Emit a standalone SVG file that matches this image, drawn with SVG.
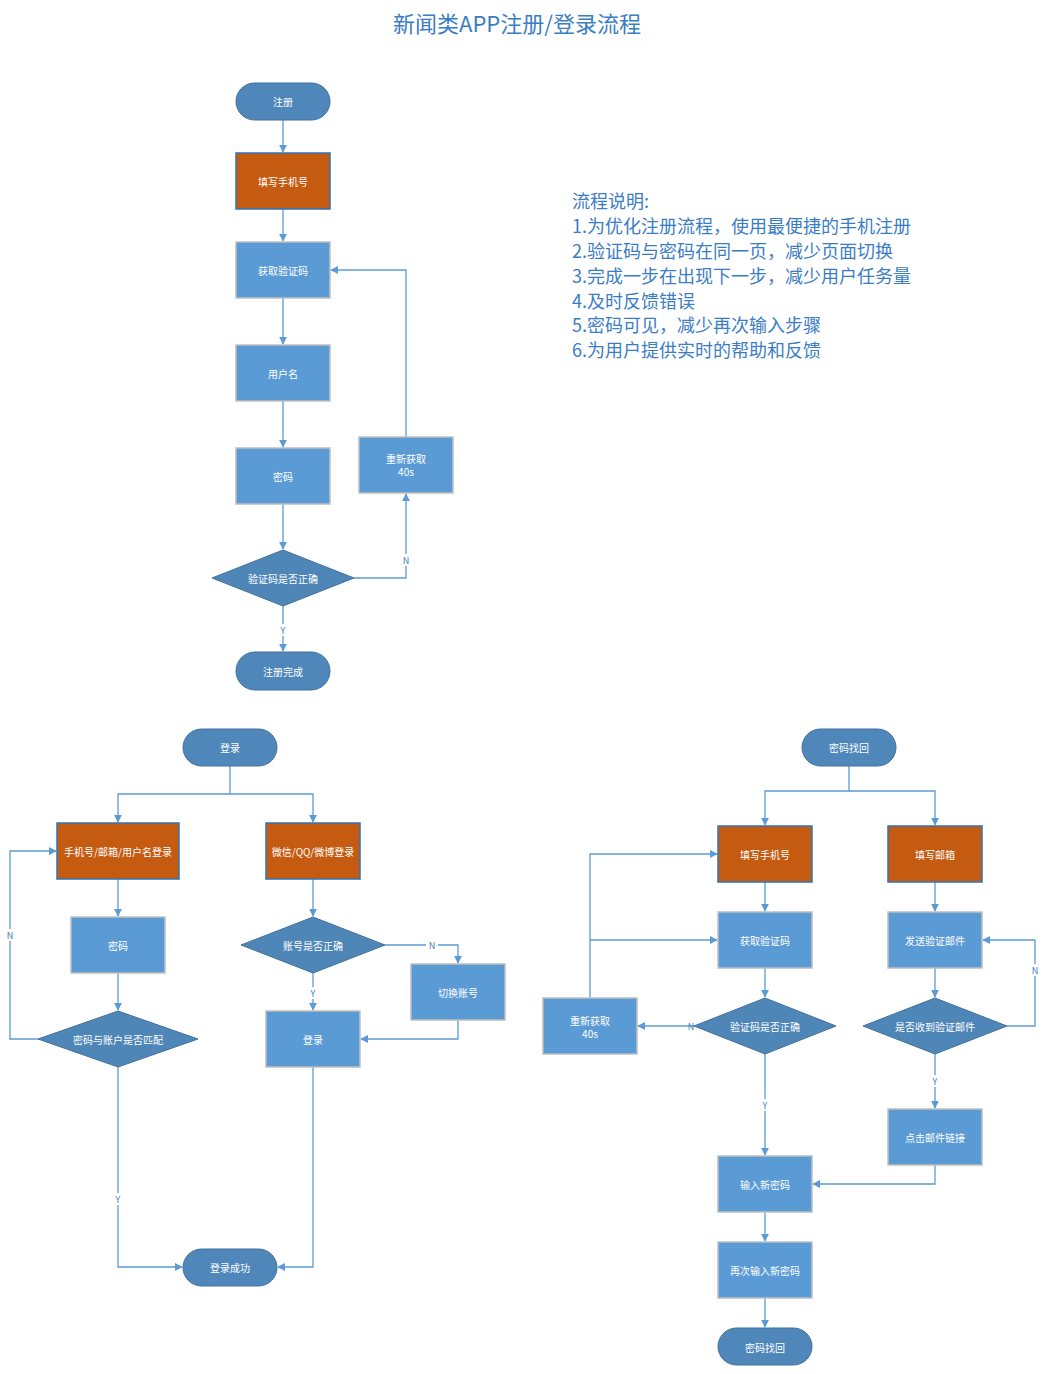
<svg xmlns="http://www.w3.org/2000/svg" width="1045" height="1374" viewBox="0 0 1045 1374">
<defs>
<marker id="a" viewBox="0 0 10 10" refX="9" refY="5" markerWidth="8" markerHeight="8" markerUnits="userSpaceOnUse" orient="auto"><path d="M0,0L10,5L0,10z" fill="#5B9BD5"/></marker>
<style>
text{font-family:"Noto Sans CJK SC","Liberation Sans",sans-serif;}
.t{fill:#4F87BB;stroke:#41719C;stroke-width:1}
.r{fill:#5B9BD5;stroke:#BFBFBF;stroke-width:1.5}
.o{fill:#C55A11;stroke:#2E75B6;stroke-width:1.5}
.d{fill:#4E86B8;stroke:#41719C;stroke-width:1}
.n text,text.n{fill:#fff;font-size:10px;text-anchor:middle;dominant-baseline:central}
.c path{fill:none;stroke:#5B9BD5;stroke-width:1.3}
.l{fill:#3B7DC4;font-size:9px;text-anchor:middle;dominant-baseline:central}
.x{fill:#3B7DC4;font-size:18px}
</style>
</defs>
<rect width="1045" height="1374" fill="#fff"/>
<text x="517" y="22" text-anchor="middle" dominant-baseline="central" style="fill:#3B7DC4;font-size:22px">新闻类APP注册/登录流程</text>
<g id="notes">
<text class="x" x="572" y="208">流程说明:</text>
<text class="x" x="572" y="233">1.为优化注册流程，使用最便捷的手机注册</text>
<text class="x" x="572" y="258">2.验证码与密码在同一页，减少页面切换</text>
<text class="x" x="572" y="283">3.完成一步在出现下一步，减少用户任务量</text>
<text class="x" x="572" y="308">4.及时反馈错误</text>
<text class="x" x="572" y="332">5.密码可见，减少再次输入步骤</text>
<text class="x" x="572" y="357">6.为用户提供实时的帮助和反馈</text>
</g>
<g class="c" id="connectors">
<path d="M283,120V152" marker-end="url(#a)"/>
<path d="M283,209V241" marker-end="url(#a)"/>
<path d="M283,298V344" marker-end="url(#a)"/>
<path d="M283,401V447" marker-end="url(#a)"/>
<path d="M283,504V549" marker-end="url(#a)"/>
<path d="M283,606V651" marker-end="url(#a)"/>
<path d="M354,578H406V494" marker-end="url(#a)"/>
<path d="M406,437V270H331" marker-end="url(#a)"/>
<path d="M230,766V794H118V822" marker-end="url(#a)"/>
<path d="M230,794H313V822" marker-end="url(#a)"/>
<path d="M118,879V916" marker-end="url(#a)"/>
<path d="M118,973V1010" marker-end="url(#a)"/>
<path d="M38,1039H10V851H56" marker-end="url(#a)"/>
<path d="M118,1067V1267H182" marker-end="url(#a)"/>
<path d="M313,879V916" marker-end="url(#a)"/>
<path d="M385,945H458V963" marker-end="url(#a)"/>
<path d="M458,1020V1039H361" marker-end="url(#a)"/>
<path d="M313,973V1010" marker-end="url(#a)"/>
<path d="M313,1067V1267H278" marker-end="url(#a)"/>
<path d="M849,766V791H765V825" marker-end="url(#a)"/>
<path d="M849,791H935V825" marker-end="url(#a)"/>
<path d="M765,882V911" marker-end="url(#a)"/>
<path d="M935,882V911" marker-end="url(#a)"/>
<path d="M765,968V997" marker-end="url(#a)"/>
<path d="M935,968V997" marker-end="url(#a)"/>
<path d="M694,1026H638" marker-end="url(#a)"/>
<path d="M590,998V854H717" marker-end="url(#a)"/>
<path d="M590,940H717" marker-end="url(#a)"/>
<path d="M1007,1026H1035V940H983" marker-end="url(#a)"/>
<path d="M935,1054V1108" marker-end="url(#a)"/>
<path d="M935,1165V1184H813" marker-end="url(#a)"/>
<path d="M765,1054V1155" marker-end="url(#a)"/>
<path d="M765,1212V1241" marker-end="url(#a)"/>
<path d="M765,1298V1327" marker-end="url(#a)"/>
</g>
<g id="labels">
<rect x="400" y="554" width="12" height="12" fill="#fff"/><text class="l" x="406" y="560">N</text>
<rect x="277" y="624" width="12" height="12" fill="#fff"/><text class="l" x="283" y="630">Y</text>
<rect x="4" y="929" width="12" height="12" fill="#fff"/><text class="l" x="10" y="935">N</text>
<rect x="112" y="1193" width="12" height="12" fill="#fff"/><text class="l" x="118" y="1199">Y</text>
<rect x="426" y="939" width="12" height="12" fill="#fff"/><text class="l" x="432" y="945">N</text>
<rect x="307" y="987" width="12" height="12" fill="#fff"/><text class="l" x="313" y="993">Y</text>
<text class="l" x="691" y="1026">N</text>
<rect x="1029" y="964" width="12" height="12" fill="#fff"/><text class="l" x="1035" y="970">N</text>
<rect x="929" y="1075" width="12" height="12" fill="#fff"/><text class="l" x="935" y="1081">Y</text>
<rect x="759" y="1099" width="12" height="12" fill="#fff"/><text class="l" x="765" y="1105">Y</text>
</g>
<g id="reg" class="n"><rect class="t" x="236" y="83" width="94" height="37" rx="18.5"/><text x="283" y="101">注册</text></g>
<g id="phone1" class="n"><rect class="o" x="236" y="153" width="94" height="56"/><text x="283" y="181">填写手机号</text></g>
<g id="code1" class="n"><rect class="r" x="236" y="242" width="94" height="56"/><text x="283" y="270">获取验证码</text></g>
<g id="user" class="n"><rect class="r" x="236" y="345" width="94" height="56"/><text x="283" y="373">用户名</text></g>
<g id="pwd1" class="n"><rect class="r" x="236" y="448" width="94" height="56"/><text x="283" y="476">密码</text></g>
<g id="chk1" class="n"><path class="d" d="M212,578L283,550L354,578L283,606z"/><text x="283" y="578">验证码是否正确</text></g>
<g id="regok" class="n"><rect class="t" x="236" y="652" width="94" height="38" rx="19"/><text x="283" y="671">注册完成</text></g>
<g id="retry1" class="n"><rect class="r" x="359" y="437" width="94" height="56"/><text x="406" y="458">重新获取</text><text x="406" y="471">40s</text></g>
<g id="login" class="n"><rect class="t" x="183" y="729" width="94" height="37" rx="18.5"/><text x="230" y="747">登录</text></g>
<g id="acct" class="n"><rect class="o" x="57" y="823" width="122" height="56"/><text x="118" y="851">手机号/邮箱/用户名登录</text></g>
<g id="social" class="n"><rect class="o" x="266" y="823" width="94" height="56"/><text x="313" y="851">微信/QQ/微博登录</text></g>
<g id="pwd2" class="n"><rect class="r" x="71" y="917" width="94" height="56"/><text x="118" y="945">密码</text></g>
<g id="match" class="n"><path class="d" d="M38,1039L118,1011L198,1039L118,1067z"/><text x="118" y="1039">密码与账户是否匹配</text></g>
<g id="acctok" class="n"><path class="d" d="M241,945L313,917L385,945L313,973z"/><text x="313" y="945">账号是否正确</text></g>
<g id="switch" class="n"><rect class="r" x="411" y="964" width="94" height="56"/><text x="458" y="992">切换账号</text></g>
<g id="login2" class="n"><rect class="r" x="266" y="1011" width="94" height="56"/><text x="313" y="1039">登录</text></g>
<g id="loginok" class="n"><rect class="t" x="183" y="1249" width="94" height="37" rx="18.5"/><text x="230" y="1267">登录成功</text></g>
<g id="find" class="n"><rect class="t" x="802" y="729" width="94" height="37" rx="18.5"/><text x="849" y="747">密码找回</text></g>
<g id="phone2" class="n"><rect class="o" x="718" y="826" width="94" height="56"/><text x="765" y="854">填写手机号</text></g>
<g id="mail" class="n"><rect class="o" x="888" y="826" width="94" height="56"/><text x="935" y="854">填写邮箱</text></g>
<g id="code2" class="n"><rect class="r" x="718" y="912" width="94" height="56"/><text x="765" y="940">获取验证码</text></g>
<g id="send" class="n"><rect class="r" x="888" y="912" width="94" height="56"/><text x="935" y="940">发送验证邮件</text></g>
<g id="chk2" class="n"><path class="d" d="M694,1026L765,998L836,1026L765,1054z"/><text x="765" y="1026">验证码是否正确</text></g>
<g id="retry2" class="n"><rect class="r" x="543" y="998" width="94" height="56"/><text x="590" y="1020">重新获取</text><text x="590" y="1033">40s</text></g>
<g id="got" class="n"><path class="d" d="M863,1026L935,998L1007,1026L935,1054z"/><text x="935" y="1026">是否收到验证邮件</text></g>
<g id="click" class="n"><rect class="r" x="888" y="1109" width="94" height="56"/><text x="935" y="1137">点击邮件链接</text></g>
<g id="newpw" class="n"><rect class="r" x="718" y="1156" width="94" height="56"/><text x="765" y="1184">输入新密码</text></g>
<g id="again" class="n"><rect class="r" x="718" y="1242" width="94" height="56"/><text x="765" y="1270">再次输入新密码</text></g>
<g id="found" class="n"><rect class="t" x="718" y="1328" width="94" height="37" rx="18.5"/><text x="765" y="1347">密码找回</text></g>
</svg>
